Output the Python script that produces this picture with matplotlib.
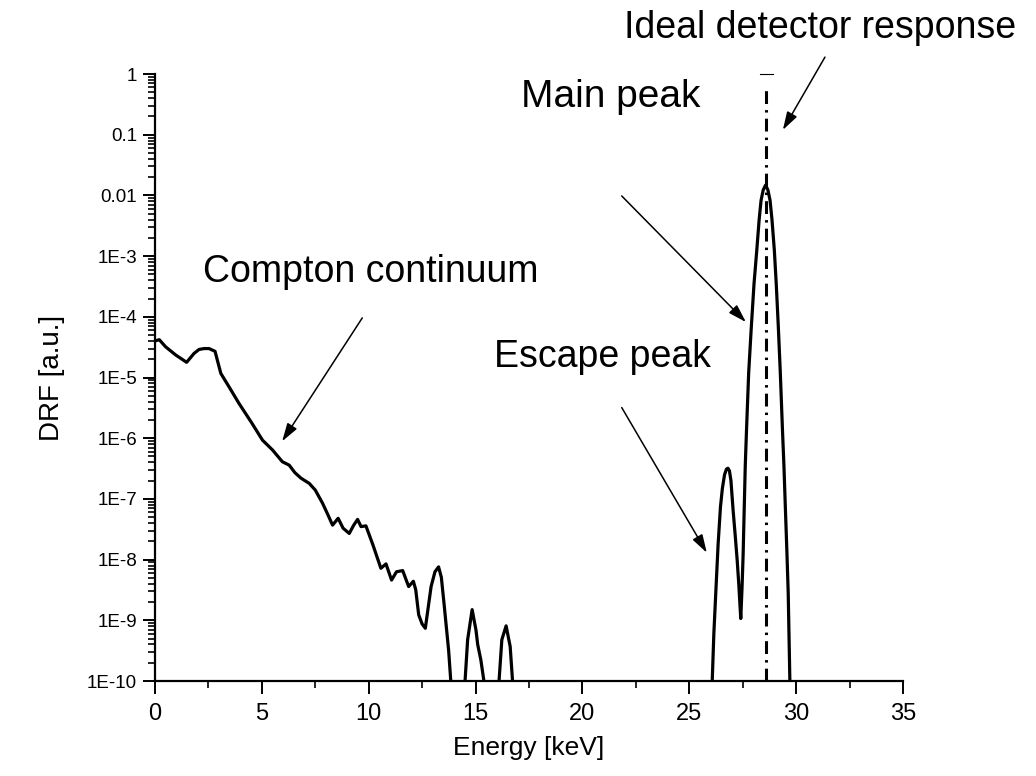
import matplotlib
matplotlib.use("Agg")
import matplotlib.pyplot as plt
from matplotlib.ticker import FixedLocator, FixedFormatter, LogLocator, NullFormatter, MultipleLocator

energy = [0.0, 0.2, 0.5, 0.97, 1.48, 1.83, 2.06, 2.3, 2.53, 2.81, 3.08, 3.5, 3.94,
          4.5, 5.03, 5.5, 5.96, 6.28, 6.55, 6.83, 7.22, 7.5, 7.84, 8.1, 8.31, 8.57,
          8.8, 9.09, 9.3, 9.48, 9.64, 9.87, 10.2, 10.57, 10.81, 11.07, 11.3, 11.59,
          11.87, 12.09, 12.2, 12.34, 12.5, 12.65, 12.92, 13.1, 13.27, 13.4, 13.54,
          13.74, 13.85, 13.95,
          14.45, 14.5, 14.63, 14.84, 15.02, 15.1, 15.25, 15.41, 15.5,
          16.0, 16.09, 16.23, 16.43, 16.62, 16.74, 16.85,
          25.95, 26.07, 26.15, 26.24, 26.35, 26.46, 26.55, 26.65, 26.74, 26.81,
          26.88, 26.95, 27.05, 27.15, 27.24, 27.32, 27.38, 27.41,
          27.47, 27.52, 27.57, 27.62, 27.68, 27.78, 27.9, 28.03, 28.16, 28.27,
          28.36, 28.46, 28.57, 28.68, 28.78, 28.87, 28.98, 29.07, 29.17, 29.26,
          29.36, 29.43, 29.5, 29.57, 29.63, 29.71, 29.8]
drf = [4.0e-5, 4.2e-5, 3.2e-5, 2.35e-5, 1.78e-5, 2.5e-5, 2.9e-5, 3.0e-5, 3.0e-5,
       2.7e-5, 1.17e-5, 6.7e-6, 3.7e-6,
       1.85e-6, 9.3e-7, 6.4e-7, 4.1e-7, 3.6e-7, 2.7e-7, 2.2e-7, 1.8e-7, 1.4e-7,
       8.5e-8, 5.4e-8, 3.7e-8, 4.8e-8,
       3.3e-8, 2.7e-8, 3.7e-8, 4.6e-8, 3.5e-8, 3.6e-8, 1.74e-8, 7.2e-9, 8.5e-9,
       4.6e-9, 6.3e-9, 6.6e-9,
       3.6e-9, 4.4e-9, 3.2e-9, 1.23e-9, 8.7e-10, 7.4e-10, 3.6e-9, 6.3e-9, 7.6e-9,
       5.1e-9, 1.67e-9,
       3.2e-10, 9e-11, 1e-12,
       1e-12, 9e-11, 4.8e-10, 1.5e-9, 6.9e-10, 4e-10, 2.2e-10, 9e-11, 1e-12,
       1e-12, 9e-11, 4.8e-10, 8.1e-10, 3.7e-10, 9e-11, 1e-12,
       1e-12, 9e-11, 6e-10, 2.8e-9, 1.8e-8, 7.4e-8, 1.5e-7, 2.5e-7, 3.1e-7, 3.2e-7,
       2.9e-7, 2.0e-7, 6.6e-8, 2.5e-8, 1e-8, 3.8e-9, 1.6e-9, 1.07e-9,
       3.5e-9, 1.2e-8, 6.6e-8, 3.5e-7, 1.4e-6, 1.2e-5, 6.5e-5, 3.5e-4, 1.26e-3, 4e-3,
       8.3e-3, 0.0123, 0.0148, 0.0123, 8.3e-3, 4e-3, 1.26e-3, 3.5e-4, 6.5e-5, 1.2e-5,
       1.4e-6, 3.5e-7, 6.6e-8, 1.3e-8, 2.8e-9, 9e-11, 1e-12]

# ideal (delta) response at the line energy
ideal_energy = 28.6
ideal_value = 1.0

ytick_vals = [1e-10, 1e-9, 1e-8, 1e-7, 1e-6, 1e-5, 1e-4, 1e-3, 1e-2, 1e-1, 1]
ytick_labels = ["1E-10", "1E-9", "1E-8", "1E-7", "1E-6", "1E-5", "1E-4", "1E-3",
                "0.01", "0.1", "1"]

plt.rcParams["font.family"] = ["Liberation Sans", "DejaVu Sans"]

fig = plt.figure(figsize=(10.36, 7.76), dpi=100)
ax = fig.add_axes([0.1496, 0.1224, 0.722, 0.7822])

ax.plot(energy, drf, color="k", lw=2.3, solid_joinstyle="round")
ax.plot([ideal_energy, ideal_energy], [1e-10, 0.6], color="k", lw=2.2,
        dashes=(4.2, 2.0, 0.8, 2.0))
ax.plot([ideal_energy - 0.3, ideal_energy + 0.3], [ideal_value, ideal_value],
        color="k", lw=0.8, clip_on=False)

ax.set_yscale("log")
ax.set_xlim(0, 35)
ax.set_ylim(1e-10, 1)

ax.xaxis.set_major_locator(MultipleLocator(5))
ax.xaxis.set_minor_locator(MultipleLocator(2.5))
ax.yaxis.set_major_locator(FixedLocator(ytick_vals))
ax.yaxis.set_major_formatter(FixedFormatter(ytick_labels))
ax.yaxis.set_minor_locator(LogLocator(base=10, subs=range(2, 10), numticks=20))
ax.yaxis.set_minor_formatter(NullFormatter())

for side in ["top", "right"]:
    ax.spines[side].set_visible(False)
for side in ["left", "bottom"]:
    ax.spines[side].set_linewidth(1.6)

ax.tick_params(which="major", direction="out", length=9, width=1.4)
ax.tick_params(which="minor", direction="out", length=5, width=1.2)
ax.tick_params(axis="y", labelsize=13.5, pad=4)
ax.tick_params(axis="x", labelsize=17, pad=7)

ax.set_xlabel("Energy [keV]", fontsize=19, labelpad=8)
ax.set_ylabel("DRF [a.u.]", fontsize=20, labelpad=16)

arrow = dict(arrowstyle="-|>,head_length=0.55,head_width=0.17", color="k",
             lw=1.1, shrinkA=0, shrinkB=0, mutation_scale=20)

ax.text(31.14, 5.7, "Ideal detector response", fontsize=27, ha="center",
        va="center", clip_on=False)
ax.annotate("", xy=(29.38, 0.12), xytext=(31.35, 1.9), arrowprops=arrow,
            annotation_clip=False)

ax.text(21.34, 0.42, "Main peak", fontsize=28, ha="center", va="center")
ax.annotate("", xy=(27.65, 8.2e-5), xytext=(21.84, 9.8e-3), arrowprops=arrow)

ax.text(10.1, 5.5e-4, "Compton continuum", fontsize=27, ha="center", va="center")
ax.annotate("", xy=(5.95, 8.9e-7), xytext=(9.70, 9.6e-5), arrowprops=arrow)

ax.text(20.95, 2.2e-5, "Escape peak", fontsize=27, ha="center", va="center")
ax.annotate("", xy=(25.82, 1.3e-8), xytext=(21.84, 3.2e-6), arrowprops=arrow)

fig.savefig("out.png", dpi=100)
